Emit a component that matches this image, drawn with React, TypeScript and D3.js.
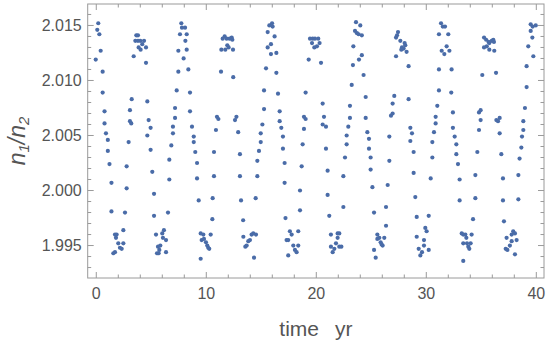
import React from 'react';
import * as d3 from 'd3';

// [time (yr), n1/n2]
const samples: [number, number][] = [
  [-0.05, 2.0119], [0.09, 2.0146], [0.18, 2.0152], [0.28, 2.0142], [0.40, 2.0127], [0.58, 2.0108], [0.58, 2.0089],
  [0.75, 2.0072], [0.75, 2.0061], [0.88, 2.0052], [1.05, 2.0046], [1.05, 2.0036], [1.20, 2.0024], [1.38, 2.0007],
  [1.38, 1.9981], [1.55, 1.9943], [1.70, 1.9944], [1.70, 1.9960], [1.85, 1.9960], [1.79, 1.9957], [2.00, 1.9952],
  [2.15, 1.9948], [2.31, 1.9947], [2.46, 1.9952], [2.46, 1.9964], [2.61, 1.9980], [2.76, 2.0002], [2.76, 2.0022],
  [2.94, 2.0044], [3.06, 2.0063], [3.18, 2.0061], [3.06, 2.0073], [3.22, 2.0083], [3.40, 2.0122], [3.55, 2.0136],
  [3.64, 2.0141], [3.79, 2.0141], [3.79, 2.0136], [3.85, 2.0130], [4.00, 2.0136], [4.03, 2.0128], [4.18, 2.0133],
  [4.34, 2.0136], [4.52, 2.0130], [4.52, 2.0116], [4.64, 2.0081], [4.64, 2.0050], [4.76, 2.0064], [4.94, 2.0057],
  [4.94, 2.0037], [5.09, 2.0017], [5.25, 1.9997], [5.25, 1.9977], [5.43, 1.9960], [5.52, 1.9943], [5.61, 1.9949],
  [5.67, 1.9943], [5.73, 1.9946], [5.82, 1.9950], [6.00, 1.9961], [6.06, 1.9957], [6.15, 1.9964], [6.34, 1.9955],
  [6.34, 1.9944], [6.52, 1.9980], [6.64, 2.0010], [6.64, 2.0028], [6.82, 2.0041], [6.97, 2.0052], [6.97, 2.0058],
  [7.16, 2.0066], [7.16, 2.0075], [7.31, 2.0091], [7.46, 2.0108], [7.46, 2.0127], [7.61, 2.0142], [7.73, 2.0152],
  [7.79, 2.0148], [7.94, 2.0120], [8.07, 2.0148], [8.10, 2.0136], [8.22, 2.0142], [8.22, 2.0128], [8.37, 2.0110],
  [8.52, 2.0089], [8.52, 2.0072], [8.70, 2.0058], [8.86, 2.0049], [8.86, 2.0044], [9.00, 2.0035], [9.16, 2.0025],
  [9.16, 2.0011], [9.31, 1.9991], [9.49, 1.9961], [9.49, 1.9938], [9.58, 1.9955], [9.73, 1.9960], [9.79, 1.9956],
  [9.97, 1.9953], [10.09, 1.9950], [10.18, 1.9948], [10.27, 1.9947], [10.40, 1.9960], [10.55, 1.9974], [10.58, 1.9993],
  [10.70, 2.0013], [10.70, 2.0035], [10.88, 2.0055], [10.97, 2.0067], [11.10, 2.0065], [11.34, 2.0108], [11.37, 2.0128],
  [11.49, 2.0138], [11.67, 2.0140], [11.85, 2.0138], [12.12, 2.0138], [12.31, 2.0139], [12.37, 2.0137], [11.91, 2.0132],
  [12.03, 2.0130], [12.43, 2.0128], [11.73, 2.0128], [12.45, 2.0103], [12.61, 2.0064], [12.74, 2.0067], [12.90, 2.0053],
  [13.06, 2.0033], [13.06, 2.0013], [13.16, 1.9991], [13.35, 1.9973], [13.37, 1.9958], [13.55, 1.9949], [13.67, 1.9950],
  [13.82, 1.9954], [13.97, 1.9955], [14.12, 1.9960], [14.27, 1.9961], [14.52, 1.9960], [14.34, 1.9939], [14.49, 1.9993],
  [14.64, 2.0013], [14.64, 2.0027], [14.79, 2.0036], [14.95, 2.0044], [14.95, 2.0052], [15.10, 2.0060], [15.25, 2.0074],
  [15.25, 2.0091], [15.43, 2.0111], [15.58, 2.0130], [15.58, 2.0144], [15.73, 2.0150], [15.98, 2.0152], [16.03, 2.0149],
  [15.88, 2.0133], [15.88, 2.0124], [16.21, 2.0140], [16.37, 2.0125], [16.37, 2.0107], [16.52, 2.0088], [16.67, 2.0072],
  [16.67, 2.0063], [16.82, 2.0057], [16.97, 2.0049], [16.97, 2.0038], [17.12, 2.0025], [17.12, 2.0007], [17.20, 1.9975],
  [17.30, 1.9955], [17.45, 1.9955], [17.60, 1.9963], [17.76, 1.9960], [17.91, 1.9950], [18.06, 1.9946], [18.21, 1.9944],
  [18.36, 1.9950], [18.36, 1.9963], [17.45, 1.9941], [18.52, 1.9982], [18.52, 2.0000], [18.67, 2.0022], [18.76, 2.0042],
  [18.88, 2.0056], [18.88, 2.0067], [19.03, 2.0065], [19.03, 2.0089], [19.31, 2.0119], [19.43, 2.0138], [19.61, 2.0134],
  [19.67, 2.0138], [19.82, 2.0130], [19.88, 2.0138], [20.06, 2.0131], [20.18, 2.0138], [20.30, 2.0134], [20.43, 2.0116],
  [20.58, 2.0079], [20.70, 2.0067], [20.58, 2.0060], [20.88, 2.0058], [20.88, 2.0038], [21.03, 2.0018], [21.03, 1.9996],
  [21.18, 1.9977], [21.33, 1.9960], [21.94, 1.9961], [22.09, 1.9961], [21.94, 1.9957], [21.79, 1.9952], [21.33, 1.9949],
  [21.64, 1.9947], [21.49, 1.9944], [22.09, 1.9949], [22.28, 1.9949], [22.46, 1.9985], [22.46, 2.0013], [22.61, 2.0030],
  [22.76, 2.0042], [22.76, 2.0050], [22.91, 2.0058], [23.06, 2.0066], [23.06, 2.0077], [23.22, 2.0096], [23.33, 2.0114],
  [23.37, 2.0131], [23.52, 2.0145], [23.61, 2.0153], [23.70, 2.0143], [23.85, 2.0142], [24.00, 2.0150], [24.14, 2.0141],
  [24.14, 2.0123], [23.88, 2.0119], [24.30, 2.0105], [24.49, 2.0085], [24.49, 2.0066], [24.64, 2.0053], [24.79, 2.0047],
  [24.79, 2.0038], [24.94, 2.0030], [24.94, 2.0019], [25.10, 2.0003], [25.25, 1.9980], [25.25, 1.9946], [25.40, 1.9939],
  [25.55, 1.9960], [25.55, 1.9956], [25.73, 1.9957], [25.85, 1.9953], [25.94, 1.9951], [26.03, 1.9950], [26.18, 1.9957],
  [26.34, 1.9968], [26.34, 1.9985], [26.49, 2.0005], [26.64, 2.0027], [26.64, 2.0049], [26.79, 2.0068], [26.94, 2.0070],
  [26.94, 2.0079], [27.09, 2.0086], [27.25, 2.0122], [27.43, 2.0144], [27.34, 2.0141], [27.25, 2.0139], [27.64, 2.0136],
  [28.03, 2.0134], [28.09, 2.0132], [27.79, 2.0130], [27.94, 2.0129], [27.73, 2.0128], [28.21, 2.0126], [28.39, 2.0113],
  [28.39, 2.0083], [28.55, 2.0057], [28.70, 2.0052], [28.55, 2.0045], [28.85, 2.0035], [28.85, 2.0016], [29.00, 1.9994],
  [29.13, 1.9976], [29.13, 1.9958], [29.31, 1.9947], [29.46, 1.9941], [29.61, 1.9944], [29.79, 1.9950], [29.79, 1.9955],
  [29.91, 1.9966], [30.03, 1.9963], [30.22, 1.9946], [30.22, 1.9977], [30.40, 2.0011], [30.55, 2.0030], [30.55, 2.0044],
  [30.70, 2.0053], [30.85, 2.0061], [30.85, 2.0067], [31.00, 2.0077], [31.15, 2.0091], [31.15, 2.0110], [31.15, 2.0142],
  [31.34, 2.0152], [31.50, 2.0149], [31.70, 2.0149], [32.00, 2.0142], [31.85, 2.0131], [31.64, 2.0124], [31.40, 2.0127],
  [32.10, 2.0127], [32.30, 2.0110], [32.27, 2.0089], [32.42, 2.0071], [32.42, 2.0057], [32.58, 2.0049], [32.73, 2.0042],
  [32.73, 2.0033], [32.88, 2.0024], [33.03, 2.0010], [33.03, 1.9991], [33.22, 1.9961], [33.36, 1.9960], [33.55, 1.9960],
  [33.64, 1.9957], [33.36, 1.9952], [33.70, 1.9952], [33.82, 1.9949], [33.91, 1.9947], [34.03, 1.9952], [34.12, 1.9960],
  [33.36, 1.9936], [34.25, 1.9974], [34.46, 1.9993], [34.46, 2.0014], [34.64, 2.0035], [34.79, 2.0055], [34.94, 2.0064],
  [34.79, 2.0071], [34.94, 2.0073], [35.09, 2.0105], [35.25, 2.0139], [35.44, 2.0137], [35.66, 2.0135], [35.73, 2.0134],
  [35.95, 2.0136], [36.09, 2.0137], [36.15, 2.0135], [35.25, 2.0130], [35.50, 2.0131], [35.73, 2.0128], [36.18, 2.0127],
  [36.34, 2.0107], [36.37, 2.0064], [36.52, 2.0063], [36.67, 2.0066], [36.67, 2.0052], [36.82, 2.0033], [36.97, 2.0011],
  [36.97, 1.9991], [37.06, 1.9972], [37.30, 1.9957], [37.22, 1.9947], [37.37, 1.9946], [37.60, 1.9950], [37.76, 1.9954],
  [37.76, 1.9960], [37.90, 1.9963], [38.06, 1.9961], [38.21, 1.9955], [38.06, 1.9942], [38.37, 1.9992], [38.37, 2.0014],
  [38.48, 2.0029], [38.64, 2.0039], [38.70, 2.0049], [38.82, 2.0055], [38.82, 2.0063], [38.97, 2.0075], [39.12, 2.0094],
  [39.12, 2.0113], [39.27, 2.0131], [39.49, 2.0145], [39.49, 2.0151], [39.67, 2.0149], [39.95, 2.0150], [39.64, 2.0139],
  [39.73, 2.0122],
];

const xMajor = [0, 10, 20, 30, 40];
const xMinor = [2, 4, 6, 8, 12, 14, 16, 18, 22, 24, 26, 28, 32, 34, 36, 38];
const yMajor = [1.995, 2.0, 2.005, 2.01, 2.015];
const yMinor = [1.993, 1.994, 1.996, 1.997, 1.998, 1.999, 2.001, 2.002, 2.003, 2.004, 2.006, 2.007, 2.008, 2.009, 2.011, 2.012, 2.013, 2.014, 2.016];

const W = 550, H = 348;
const frameColor = '#9a9a9a';
const labelColor = '#555555';
const dotColor = '#4a6ca8';
const font = '"Liberation Sans", Arial, sans-serif';

export default function App() {
  const x = d3.scaleLinear().domain([-0.78, 40.7]).range([87.7, 544]);
  const y = d3.scaleLinear().domain([1.99205, 2.01695]).range([278, 4]);
  const [x0, x1] = x.range();
  const [y0, y1] = y.range();
  const majLen = 6, minLen = 3.5;

  return (
    <svg width={W} height={H} style={{ position: 'absolute', left: 0, top: 0, background: '#fff' }} fontFamily={font}>
      {/* frame */}
      <rect x={x0} y={y1} width={x1 - x0} height={y0 - y1} fill="none" stroke={frameColor} strokeWidth={1} />

      {/* x ticks, bottom and top, pointing inward */}
      <g stroke={frameColor} strokeWidth={1}>
        {xMajor.map(v => (
          <g key={'xM' + v}>
            <line x1={x(v)} x2={x(v)} y1={y0} y2={y0 - majLen} />
            <line x1={x(v)} x2={x(v)} y1={y1} y2={y1 + majLen} />
          </g>
        ))}
        {xMinor.map(v => (
          <g key={'xm' + v}>
            <line x1={x(v)} x2={x(v)} y1={y0} y2={y0 - minLen} />
            <line x1={x(v)} x2={x(v)} y1={y1} y2={y1 + minLen} />
          </g>
        ))}
        {yMajor.map(v => (
          <g key={'yM' + v}>
            <line x1={x0} x2={x0 + majLen} y1={y(v)} y2={y(v)} />
            <line x1={x1} x2={x1 - majLen} y1={y(v)} y2={y(v)} />
          </g>
        ))}
        {yMinor.map(v => (
          <g key={'ym' + v}>
            <line x1={x0} x2={x0 + minLen} y1={y(v)} y2={y(v)} />
            <line x1={x1} x2={x1 - minLen} y1={y(v)} y2={y(v)} />
          </g>
        ))}
      </g>

      {/* tick labels */}
      <g fill={labelColor} fontSize={16}>
        {xMajor.map(v => (
          <text key={'xl' + v} x={x(v)} y={299} textAnchor="middle">{v}</text>
        ))}
        {yMajor.map(v => (
          <text key={'yl' + v} x={x0 - 6} y={y(v) + 5.7} textAnchor="end">{d3.format('.3f')(v)}</text>
        ))}
      </g>

      {/* axis labels */}
      <g fill={labelColor} fontSize={21}>
        <text x={279.3} y={336}>time</text>
        <text x={335} y={336}>yr</text>
      </g>
      <text transform={`translate(25,${(y0 + y1) / 2}) rotate(-90)`} textAnchor="middle" fill={labelColor} fontSize={23} fontStyle="italic">
        n<tspan fontSize={15} dy={4}>1</tspan><tspan dy={-4}>/n</tspan><tspan fontSize={15} dy={4}>2</tspan>
      </text>

      {/* data */}
      <g fill={dotColor}>
        {samples.map(([t, r], i) => (
          <circle key={i} cx={x(t)} cy={y(r)} r={2.1} />
        ))}
      </g>
    </svg>
  );
}
